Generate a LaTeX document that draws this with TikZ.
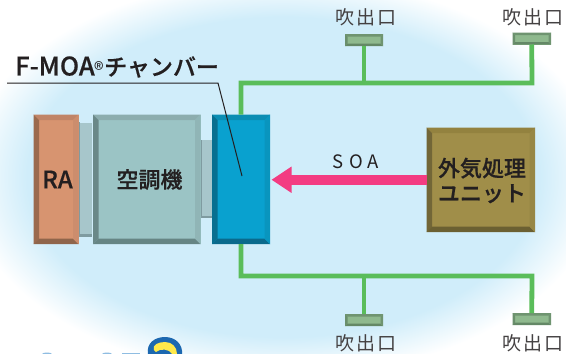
\documentclass[tikz,border=0pt]{standalone}
\usepackage{fontspec}
\usetikzlibrary{arrows.meta}
\setmainfont{Noto Sans CJK JP}
\newfontfamily\medfont[FakeBold=0.6]{Noto Sans CJK JP Medium}
\newfontfamily\spacedfont[LetterSpace=10]{Noto Sans CJK JP}
\newfontfamily\soafont[LetterSpace=28]{Noto Sans CJK JP}
\definecolor{skyc}{HTML}{D0EDFA}
\definecolor{inkc}{HTML}{231F20}
\definecolor{ductc}{HTML}{5ABD5A}
\definecolor{soac}{HTML}{F33C82}
\definecolor{linkc}{HTML}{A7C6CB}
\definecolor{linkd}{HTML}{7F9BA0}
\definecolor{logoc}{HTML}{1C68B0}
\definecolor{logoy}{HTML}{FFE94A}
\definecolor{logol}{HTML}{8FBDE2}
\definecolor{raf}{HTML}{D79470}\definecolor{rat}{HTML}{C08467}\definecolor{ral}{HTML}{9B6A4E}\definecolor{rab}{HTML}{8F654B}\definecolor{rar}{HTML}{CC8D6D}
\definecolor{acf}{HTML}{9BC4C5}\definecolor{act}{HTML}{8CADAE}\definecolor{acl}{HTML}{6A8888}\definecolor{acb}{HTML}{668584}\definecolor{acr}{HTML}{90B5B6}
\definecolor{chf}{HTML}{09A1CF}\definecolor{cht}{HTML}{0B8DB3}\definecolor{chl}{HTML}{086F90}\definecolor{chb}{HTML}{0A6A8C}\definecolor{chr}{HTML}{0995BE}
\definecolor{unf}{HTML}{A08E49}\definecolor{unt}{HTML}{93823F}\definecolor{unl}{HTML}{726637}\definecolor{unb}{HTML}{6B6032}\definecolor{unr}{HTML}{978745}
\definecolor{vef}{HTML}{8FB98E}\definecolor{vet}{HTML}{6F9470}\definecolor{vel}{HTML}{6A8F6C}\definecolor{veb}{HTML}{648866}\definecolor{ver}{HTML}{6F9470}
\pgfdeclareradialshading{skyshade}{\pgfpointorigin}{color(0bp)=(skyc); color(20bp)=(skyc); color(25bp)=(white); color(50bp)=(white)}
\tikzset{
  x=1pt,y=-1pt,
  boxface/.style={inner sep=0pt,outer sep=0pt},
  boxtext/.style={inner sep=0pt,align=center,text=inkc,font=\fontsize{22}{25}\selectfont\medfont},
  duct/.style={draw=ductc,line width=4.8pt,line join=miter},
  soa/.style={draw=soac,line width=9.5pt,-{Triangle[length=20pt,width=25pt]},shorten >=1.5pt},
  leader/.style={draw=inkc,line width=1pt},
  ventlabel/.style={inner sep=0pt,text=inkc!85,font=\fontsize{19}{20}\selectfont\spacedfont},
}
% name, x1, y1, x2, y2, bevel, colour prefix
\newcommand{\bevelbox}[7]{%
  \node[boxface,fill=#7f,minimum width={(#4-#2)*1pt},minimum height={(#5-#3)*1pt}] (#1) at ({(#2+#4)/2},{(#3+#5)/2}) {};
  \fill[#7t] (#2,#3) -- (#4,#3) -- ({#4-#6},{#3+#6}) -- ({#2+#6},{#3+#6}) -- cycle;
  \fill[#7l] (#2,#3) -- (#2,#5) -- ({#2+#6},{#5-#6}) -- ({#2+#6},{#3+#6}) -- cycle;
  \fill[#7b] (#2,#5) -- (#4,#5) -- ({#4-#6},{#5-#6}) -- ({#2+#6},{#5-#6}) -- cycle;
  \fill[#7r] (#4,#3) -- (#4,#5) -- ({#4-#6},{#5-#6}) -- ({#4-#6},{#3+#6}) -- cycle;
}
\begin{document}
\begin{tikzpicture}
\useasboundingbox (0,0) rectangle (566,354);
\fill[white] (0,0) rectangle (566,354);
\begin{scope}
  \clip (0,0) rectangle (566,354);
  \shade[shading=skyshade] (283,177) ellipse (320 and 200);
  % cut-off logo at the lower edge
  \fill[logoc] (148,354) .. controls (146,343) and (155,337) .. (165,337) .. controls (176,337) and (183,345) .. (182,354) -- cycle;
  \fill[logoy] (154,350) .. controls (152,345) and (158,342) .. (165,342) .. controls (172,342) and (177,347) .. (177,354) -- (172,354) .. controls (170,349) and (160,348) .. (156,352) -- cycle;
  \fill[logol] (42,354) .. controls (43,352) and (51,352) .. (52,354) -- cycle;
  \fill[logol] (102,354) .. controls (103,352) and (111,352) .. (112,354) -- cycle;
  \fill[logol] (122,352.5) rectangle (140,354);
\end{scope}

% ducts' end coordinates
\coordinate (topbranch) at (364,83);
\coordinate (topend) at (532,83);
\coordinate (botbranch) at (364,276);
\coordinate (botend) at (532,276);
\coordinate (leadstart) at (7,83);
\coordinate (leadbend) at (218,83);
\coordinate (leadend) at (242,176);

% link sections
\node[inner sep=0pt,fill=linkc,minimum width=13pt,minimum height=114pt] (linka) at (85.5,179.5) {};
\fill[linkd] (linka.south west) rectangle ([yshift=2.5pt]linka.south east);
\fill[linkd] (linka.north west) rectangle ([xshift=1.5pt]linka.south west);
\node[inner sep=0pt,fill=linkc,minimum width=11pt,minimum height=78pt] (linkb) at (206.5,179) {};
\fill[linkd] (linkb.south west) rectangle ([yshift=2.5pt]linkb.south east);
\fill[linkd] (linkb.north west) rectangle ([xshift=1.5pt]linkb.south west);

% vents and labels
\bevelbox{ventA}{345}{34}{383}{46}{2.5}{ve}
\bevelbox{ventB}{512.5}{32.5}{551}{44.5}{2.5}{ve}
\bevelbox{ventC}{345}{314}{383}{326}{2.5}{ve}
\bevelbox{ventD}{512.5}{313}{551}{325}{2.5}{ve}
\node[ventlabel] (labA) at (366,17) {吹出口};
\node[ventlabel] (labB) at (533,17) {吹出口};
\node[ventlabel] (labC) at (366,343) {吹出口};
\node[ventlabel] (labD) at (533,343) {吹出口};

% main boxes
\bevelbox{ra}{33.5}{114.5}{78.5}{244}{5.5}{ra}
\bevelbox{ac}{93}{114.5}{200.5}{244}{5.5}{ac}
\bevelbox{chamber}{212}{114.5}{270}{244}{5.5}{ch}
\bevelbox{unit}{426.5}{127.5}{535}{232}{5.5}{un}
\node[boxtext,font=\fontsize{24}{25}\selectfont\medfont] (ratext) at (57.5,179.5) {RA};
\node[boxtext] (actext) at (149.5,179.5) {空調機};
\node[boxtext] (unittext) at (482,180.5) {外気処理\\ユニット};

% ducts
\draw[duct] (chamber.north) |- (topend) -- (ventB.south);
\draw[duct] (topbranch) -- (ventA.south);
\draw[duct] (chamber.south) |- (botend) -- (ventD.north);
\draw[duct] (botbranch) -- (ventC.north);

% SOA arrow
\draw[soa] (unit.west) -- (unit.west -| chamber.east);
\node[inner sep=0pt,text=inkc,font=\fontsize{18.5}{20}\selectfont\soafont] (soalabel) at (356,162) {SOA};

% title and leader
\node[anchor=west,inner sep=0pt,text=inkc] (title) at (15,67) {\medfont\fontsize{25.5}{26}\selectfont F-MOA\raisebox{-2pt}{\fontsize{20}{20}\selectfont\normalfont ®}\fontsize{23}{26}\selectfont チャンバー};
\draw[leader] (leadstart) -- (leadbend) -- (leadend);
\end{tikzpicture}
\end{document}
